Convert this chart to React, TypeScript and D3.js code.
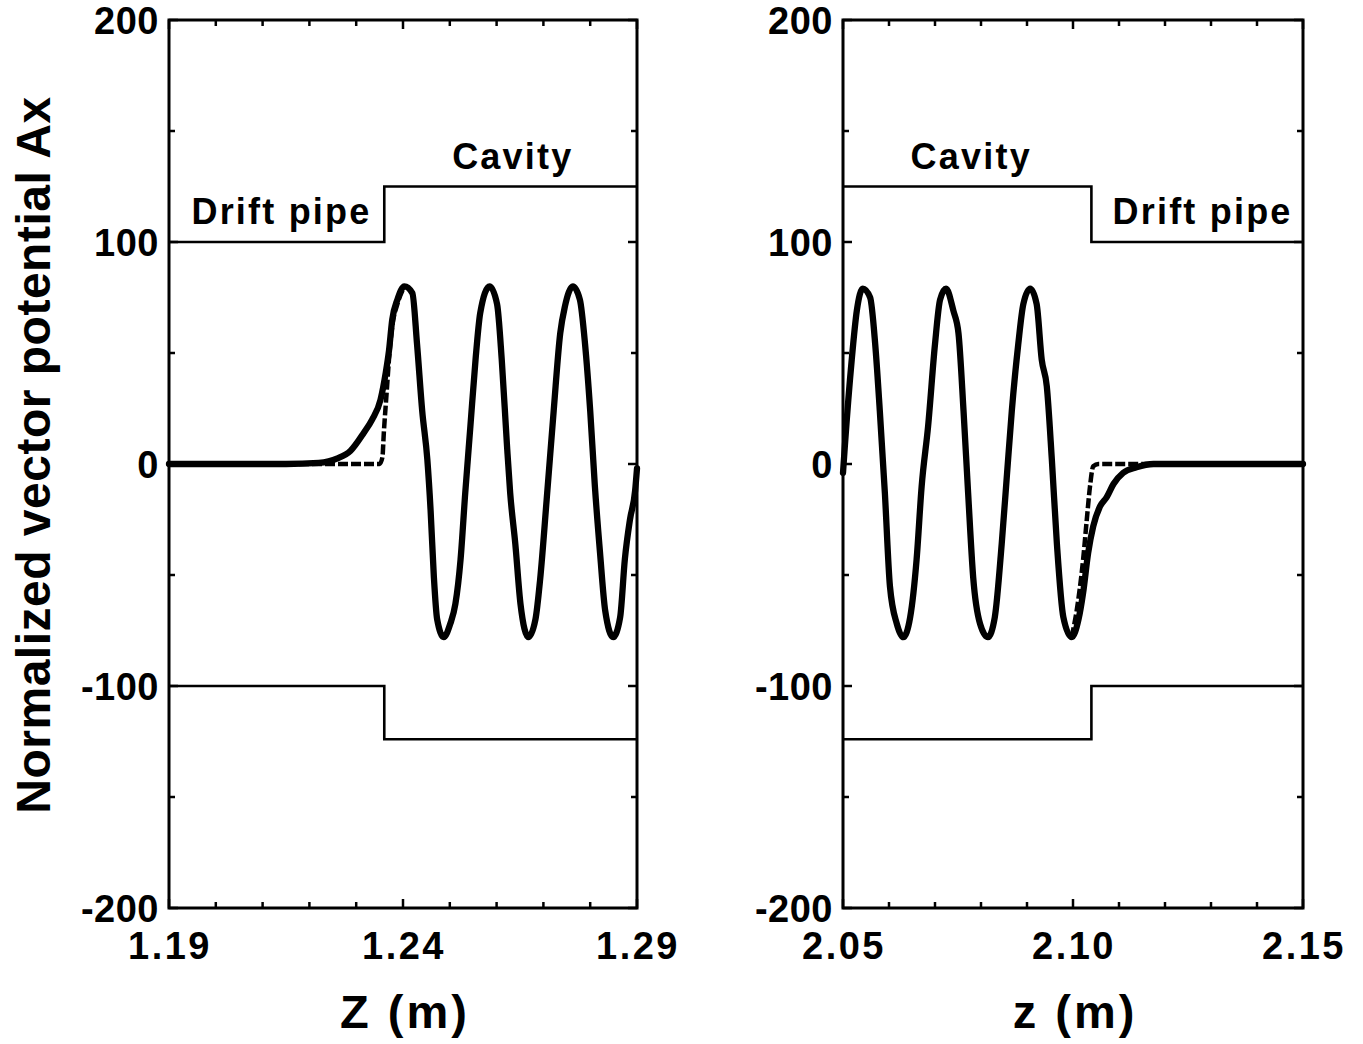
import React from "react";
import * as d3 from "d3";

// ---------- data ----------
const yMajorTicks = [-200, -100, 0, 100, 200];
const yMinorTicks = [-150, -50, 50, 150];

const leftXTicks = [1.19, 1.2, 1.21, 1.22, 1.23, 1.24, 1.25, 1.26, 1.27, 1.28, 1.29];
const leftXLabels = [1.19, 1.24, 1.29];
const rightXTicks = [2.05, 2.06, 2.07, 2.08, 2.09, 2.1, 2.11, 2.12, 2.13, 2.14, 2.15];
const rightXLabels = [2.05, 2.1, 2.15];

// wall profile (drift pipe / cavity boundary)
const leftWallUpper: [number, number][] = [[1.19, 100], [1.236, 100], [1.236, 125], [1.29, 125]];
const leftWallLower: [number, number][] = [[1.19, -100], [1.236, -100], [1.236, -124], [1.29, -124]];
const rightWallUpper: [number, number][] = [[2.05, 125], [2.104, 125], [2.104, 100], [2.15, 100]];
const rightWallLower: [number, number][] = [[2.05, -124], [2.104, -124], [2.104, -100], [2.15, -100]];

// solid curve, entrance side
const leftSolid: [number, number][] = [
  [1.19, 0], [1.215, 0], [1.222, 0.5], [1.226, 2.5], [1.2288, 6], [1.2316, 14], [1.2334, 20],
  [1.2352, 29], [1.2363, 41], [1.237, 51], [1.2377, 65], [1.2388, 74], [1.2403, 80],
  [1.242, 77], [1.243, 54], [1.2441, 24], [1.2452, 2], [1.2459, -21], [1.2466, -51],
  [1.2473, -70], [1.2487, -78], [1.2501, -72], [1.2512, -63], [1.2523, -43], [1.2533, -13],
  [1.2544, 17], [1.2555, 47], [1.2565, 68], [1.2585, 80], [1.2601, 72], [1.2611, 47],
  [1.2622, 9], [1.2629, -13], [1.264, -36], [1.2651, -63], [1.2668, -78], [1.2683, -70],
  [1.2693, -52], [1.2707, -16], [1.2722, 24], [1.2736, 59], [1.2746, 71], [1.2763, 80],
  [1.2778, 74], [1.2789, 54], [1.28, 24], [1.281, -10], [1.2821, -40], [1.2832, -66],
  [1.2849, -78], [1.2864, -69], [1.2874, -43], [1.2885, -25], [1.2896, -12], [1.29, -2],
];

// dashed curve, entrance side
const leftDashed: [number, number][] = [
  [1.19, 0], [1.235, 0], [1.2356, 3], [1.2359, 14], [1.2365, 32], [1.237, 47],
  [1.2377, 62], [1.2388, 72], [1.2403, 80],
];

// solid curve, exit side
const rightSolid: [number, number][] = [
  [2.05, -4], [2.0504, 8], [2.0519, 47], [2.053, 69], [2.0543, 79], [2.0559, 75], [2.057, 54],
  [2.058, 24], [2.0591, -13], [2.0602, -55], [2.0617, -72], [2.0631, -78], [2.0646, -69],
  [2.066, -43], [2.0671, -10], [2.0685, 17], [2.07, 54], [2.0711, 74], [2.0724, 79],
  [2.074, 69], [2.0751, 59], [2.0762, 24], [2.0772, -13], [2.0783, -51], [2.0798, -72],
  [2.0815, -78], [2.083, -69], [2.0845, -36], [2.0856, -6], [2.0867, 24], [2.0881, 54],
  [2.0892, 72], [2.0907, 79], [2.0921, 72], [2.0932, 47], [2.0943, 35], [2.0954, 2],
  [2.0965, -36], [2.0979, -69], [2.0997, -78], [2.1012, -70], [2.1022, -58], [2.1033, -40],
  [2.1044, -28], [2.1059, -19], [2.1073, -15], [2.1088, -9], [2.1109, -4], [2.1138, -1.5],
  [2.1175, 0], [2.15, 0],
];

// dashed curve, exit side
const rightDashed: [number, number][] = [
  [2.0997, -78], [2.1008, -66], [2.1022, -43], [2.103, -25], [2.1037, -10], [2.1044, -1],
  [2.1055, 0], [2.15, 0],
];

const leftRegionLabels = [
  { text: "Drift pipe", z: 1.1948, a: 108 },
  { text: "Cavity", z: 1.2505, a: 133 },
];
const rightRegionLabels = [
  { text: "Cavity", z: 2.0647, a: 133 },
  { text: "Drift pipe", z: 2.1086, a: 108 },
];

// ---------- layout ----------
const W = 1363;
const H = 1044;
const FONT = "'Liberation Sans', Arial, Helvetica, sans-serif";
const TOP = 20;
const BOTTOM = 908;

type Panel = {
  x0: number;
  x1: number;
  domain: [number, number];
  ticks: number[];
  labels: number[];
  labelFmt: (v: number) => string;
  title: string;
  walls: [number, number][][];
  solid: [number, number][];
  dashed: [number, number][];
  regionLabels: { text: string; z: number; a: number }[];
};

const panels: Panel[] = [
  {
    x0: 169, x1: 637, domain: [1.19, 1.29], ticks: leftXTicks, labels: leftXLabels,
    labelFmt: (v) => v.toFixed(2), title: "Z (m)",
    walls: [leftWallUpper, leftWallLower], solid: leftSolid, dashed: leftDashed,
    regionLabels: leftRegionLabels,
  },
  {
    x0: 843, x1: 1303, domain: [2.05, 2.15], ticks: rightXTicks, labels: rightXLabels,
    labelFmt: (v) => v.toFixed(2), title: "z (m)",
    walls: [rightWallUpper, rightWallLower], solid: rightSolid, dashed: rightDashed,
    regionLabels: rightRegionLabels,
  },
];

const y = d3.scaleLinear().domain([-200, 200]).range([BOTTOM, TOP]);

function PanelView({ p }: { p: Panel }) {
  const x = d3.scaleLinear().domain(p.domain).range([p.x0, p.x1]);
  const stepLine = d3.line<[number, number]>().x((d) => x(d[0])).y((d) => y(d[1]));
  const curve = d3
    .line<[number, number]>()
    .x((d) => x(d[0]))
    .y((d) => y(d[1]))
    .curve(d3.curveMonotoneX);
  const isLabel = (v: number) => p.labels.some((l) => Math.abs(l - v) < 1e-9);
  const yLabelFmt = (v: number) => String(v);
  const majorLen = 9;
  const minorLen = 6;
  const cx = (p.x0 + p.x1) / 2;
  return (
    <g>
      {p.walls.map((w, i) => (
        <path key={"w" + i} d={stepLine(w) || ""} fill="none" stroke="#000" strokeWidth={2.6} />
      ))}
      <path
        d={curve(p.dashed) || ""}
        fill="none"
        stroke="#000"
        strokeWidth={4.5}
        strokeDasharray="10,3"
        strokeLinejoin="round"
      />
      <path
        d={curve(p.solid) || ""}
        fill="none"
        stroke="#000"
        strokeWidth={6.3}
        strokeLinejoin="round"
        strokeLinecap="round"
      />
      <rect
        x={p.x0}
        y={TOP}
        width={p.x1 - p.x0}
        height={BOTTOM - TOP}
        fill="none"
        stroke="#000"
        strokeWidth={3}
      />
      {p.ticks.map((t, i) => {
        const len = isLabel(t) ? majorLen : minorLen;
        const xx = x(t);
        return (
          <g key={"xt" + i}>
            <line x1={xx} x2={xx} y1={BOTTOM} y2={BOTTOM - len} stroke="#000" strokeWidth={2.5} />
            <line x1={xx} x2={xx} y1={TOP} y2={TOP + len} stroke="#000" strokeWidth={2.5} />
          </g>
        );
      })}
      {[...yMajorTicks, ...yMinorTicks].map((t, i) => {
        const len = yMajorTicks.includes(t) ? majorLen : minorLen;
        const yy = y(t);
        return (
          <g key={"yt" + i}>
            <line x1={p.x0} x2={p.x0 + len} y1={yy} y2={yy} stroke="#000" strokeWidth={2.5} />
            <line x1={p.x1} x2={p.x1 - len} y1={yy} y2={yy} stroke="#000" strokeWidth={2.5} />
          </g>
        );
      })}
      {yMajorTicks.map((t, i) => (
        <text
          key={"yl" + i}
          x={p.x0 - 10}
          y={y(t) + 14}
          textAnchor="end"
          fontFamily={FONT}
          fontWeight="bold"
          fontSize={38}
          letterSpacing={0.5}
        >
          {yLabelFmt(t)}
        </text>
      ))}
      {p.labels.map((t, i) => (
        <text
          key={"xl" + i}
          x={x(t) + 1}
          y={BOTTOM + 51}
          textAnchor="middle"
          fontFamily={FONT}
          fontWeight="bold"
          fontSize={38}
          letterSpacing={2.5}
        >
          {p.labelFmt(t)}
        </text>
      ))}
      {p.regionLabels.map((r, i) => (
        <text
          key={"rl" + i}
          x={x(r.z)}
          y={y(r.a)}
          fontFamily={FONT}
          fontWeight="bold"
          fontSize={36}
          letterSpacing={2.2}
        >
          {r.text}
        </text>
      ))}
      <text
        x={cx + 2}
        y={1028}
        textAnchor="middle"
        fontFamily={FONT}
        fontWeight="bold"
        fontSize={47}
        letterSpacing={3}
      >
        {p.title}
      </text>
    </g>
  );
}

export default function App() {
  return (
    <div style={{ position: "absolute", left: 0, top: 0 }}>
      <svg width={W} height={H} viewBox={`0 0 ${W} ${H}`} style={{ display: "block", background: "#fff" }}>
        <rect x={0} y={0} width={W} height={H} fill="#fff" />
        {panels.map((p, i) => (
          <PanelView key={i} p={p} />
        ))}
        <text
          transform={`translate(50, 455) rotate(-90)`}
          textAnchor="middle"
          fontFamily={FONT}
          fontWeight="bold"
          fontSize={48}
          letterSpacing={0.5}
        >
          Normalized vector potential Ax
        </text>
      </svg>
    </div>
  );
}
